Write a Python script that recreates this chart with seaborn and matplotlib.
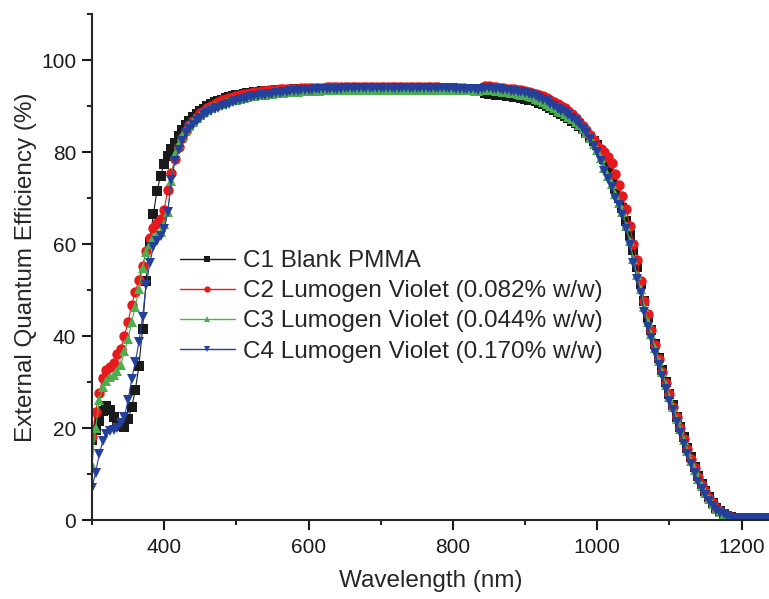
import numpy as np
import pandas as pd
import matplotlib
matplotlib.use("Agg")
import matplotlib.pyplot as plt
from matplotlib.ticker import MultipleLocator
import seaborn as sns

# ==========================================
# Data (EQE in %, read every 5 nm)
# ==========================================

wavelength = np.arange(300, 1245, 5)

c1_blank = [
    17.5, 19.5, 21.5, 23.8, 24.8, 24.0, 22.3, 21.0, 20.4, 20.3,
    21.9, 24.5, 28.2, 33.5, 41.5, 52.0, 60.5, 66.5, 71.5, 74.8,
    77.5, 79.2, 80.6, 81.9, 83.4, 84.8, 85.9, 86.8, 87.6, 88.3,
    88.9, 89.4, 89.9, 90.4, 90.8, 91.1, 91.4, 91.7, 91.9, 92.1,
    92.3, 92.5, 92.6, 92.8, 92.9, 93.0, 93.1, 93.2, 93.2, 93.3,
    93.3, 93.4, 93.4, 93.5, 93.5, 93.5, 93.6, 93.6, 93.6, 93.6,
    93.6, 93.7, 93.7, 93.7, 93.7, 93.7, 93.7, 93.7, 93.7, 93.7,
    93.7, 93.7, 93.7, 93.7, 93.7, 93.7, 93.7, 93.7, 93.7, 93.7,
    93.7, 93.7, 93.7, 93.7, 93.7, 93.7, 93.7, 93.7, 93.7, 93.7,
    93.7, 93.7, 93.7, 93.7, 93.6, 93.6, 93.6, 93.6, 93.6, 93.6,
    93.6, 93.5, 93.5, 93.5, 93.5, 93.4, 93.4, 93.4, 93.3, 92.8,
    92.7, 92.6, 92.5, 92.4, 92.3, 92.2, 92.1, 92.0, 91.9, 91.7,
    91.6, 91.4, 91.2, 91.0, 90.7, 90.4, 90.0, 89.6, 89.1, 88.6,
    88.2, 87.8, 87.3, 86.8, 86.3, 85.6, 84.9, 84.2, 83.3, 82.4,
    81.5, 80.2, 78.4, 76.6, 74.5, 72.2, 70.0, 67.8, 65.1, 62.0,
    58.6, 55.0, 51.4, 47.6, 44.2, 41.2, 38.2, 35.3, 32.6, 30.0,
    27.3, 24.9, 22.5, 20.2, 18.0, 15.7, 13.6, 11.6, 9.6, 7.9,
    6.3, 4.9, 3.7, 2.7, 1.9, 1.3, 0.9, 0.6, 0.4, 0.4,
    0.4, 0.4, 0.4, 0.4, 0.4, 0.4, 0.4, 0.4, 0.4,
]

c2_violet_082 = [
    18.0, 23.5, 27.6, 30.8, 32.6, 33.3, 34.1, 36.0, 37.2, 40.0,
    43.1, 46.7, 49.6, 52.2, 55.3, 58.4, 61.4, 63.4, 64.6, 65.5,
    67.5, 71.8, 75.4, 78.5, 81.0, 83.0, 84.6, 85.8, 86.8, 87.7,
    88.4, 89.0, 89.6, 90.1, 90.5, 90.9, 91.2, 91.5, 91.8, 92.0,
    92.2, 92.4, 92.6, 92.7, 92.9, 93.0, 93.1, 93.2, 93.3, 93.4,
    93.5, 93.5, 93.6, 93.6, 93.7, 93.7, 93.8, 93.8, 93.9, 93.9,
    93.9, 94.0, 94.0, 94.0, 94.0, 94.1, 94.1, 94.1, 94.1, 94.1,
    94.2, 94.2, 94.2, 94.2, 94.2, 94.2, 94.2, 94.2, 94.2, 94.2,
    94.2, 94.2, 94.2, 94.2, 94.2, 94.2, 94.2, 94.2, 94.2, 94.2,
    94.2, 94.2, 94.1, 94.1, 94.1, 94.1, 94.1, 94.0, 94.0, 94.0,
    94.0, 93.9, 93.9, 93.9, 93.8, 93.8, 93.8, 93.7, 94.0, 94.4,
    94.3, 94.2, 94.1, 94.0, 93.9, 93.8, 93.7, 93.6, 93.5, 93.4,
    93.3, 93.1, 92.9, 92.7, 92.4, 92.1, 91.7, 91.3, 90.9, 90.5,
    90.1, 89.6, 89.0, 88.3, 87.5, 86.6, 85.7, 84.8, 83.7, 82.6,
    81.3, 80.6, 79.9, 78.9, 77.6, 75.3, 72.8, 70.4, 67.7, 63.9,
    60.1, 56.5, 52.0, 47.6, 44.8, 41.4, 38.1, 35.0, 32.2, 29.8,
    27.3, 24.6, 22.3, 19.9, 17.7, 15.4, 13.3, 11.3, 9.4, 7.7,
    6.2, 4.8, 3.6, 2.6, 1.9, 1.3, 0.9, 0.6, 0.4, 0.4,
    0.4, 0.4, 0.4, 0.4, 0.4, 0.4, 0.4, 0.4, 0.4,
]

c3_violet_044 = [
    12.0, 20.0, 26.0, 29.0, 30.3, 31.0, 31.6, 32.4, 33.8, 36.7,
    39.3, 43.1, 46.4, 50.2, 54.8, 58.2, 60.1, 61.4, 62.1, 62.6,
    64.3, 67.0, 73.8, 79.6, 81.8, 83.4, 84.7, 85.7, 86.6, 87.4,
    88.0, 88.6, 89.1, 89.5, 89.9, 90.2, 90.5, 90.8, 91.0, 91.2,
    91.4, 91.6, 91.8, 92.0, 92.1, 92.2, 92.3, 92.4, 92.5, 92.6,
    92.7, 92.8, 92.8, 92.9, 93.0, 93.0, 93.1, 93.1, 93.2, 93.2,
    93.2, 93.3, 93.3, 93.3, 93.4, 93.4, 93.4, 93.4, 93.5, 93.5,
    93.5, 93.5, 93.5, 93.5, 93.5, 93.5, 93.5, 93.5, 93.5, 93.5,
    93.5, 93.5, 93.5, 93.5, 93.5, 93.5, 93.5, 93.5, 93.5, 93.5,
    93.5, 93.5, 93.5, 93.5, 93.5, 93.5, 93.5, 93.5, 93.5, 93.5,
    93.5, 93.5, 93.4, 93.4, 93.4, 93.4, 93.3, 93.3, 93.4, 93.6,
    93.5, 93.4, 93.3, 93.2, 93.1, 93.0, 92.9, 92.8, 92.6, 92.5,
    92.3, 92.1, 91.9, 91.6, 91.3, 90.9, 90.5, 90.0, 89.5, 89.0,
    88.6, 88.2, 87.7, 87.2, 86.6, 85.9, 85.1, 84.2, 83.0, 81.7,
    80.4, 78.6, 76.5, 74.7, 73.0, 70.8, 69.0, 66.9, 64.0, 60.6,
    56.8, 53.3, 50.2, 46.3, 43.0, 40.4, 37.4, 34.6, 32.2, 29.4,
    26.8, 24.6, 22.0, 19.7, 17.3, 15.0, 12.9, 10.9, 8.9, 7.3,
    5.9, 4.5, 3.4, 2.4, 1.8, 1.3, 0.9, 0.6, 0.4, 0.4,
    0.4, 0.4, 0.4, 0.4, 0.4, 0.4, 0.4, 0.4, 0.4,
]

c4_violet_170 = [
    7.0, 10.3, 14.3, 17.2, 18.7, 19.3, 19.6, 20.1, 21.0, 22.5,
    26.1, 30.6, 34.4, 38.6, 44.2, 51.0, 55.8, 59.3, 60.7, 61.7,
    63.2, 67.0, 74.0, 78.0, 80.4, 82.4, 84.1, 85.0, 85.9, 86.7,
    87.4, 88.0, 88.5, 88.9, 89.3, 89.6, 89.9, 90.2, 90.5, 90.8,
    91.0, 91.3, 91.5, 91.7, 91.9, 92.1, 92.2, 92.4, 92.5, 92.6,
    92.7, 92.8, 92.9, 93.0, 93.1, 93.2, 93.3, 93.3, 93.4, 93.4,
    93.5, 93.5, 93.6, 93.6, 93.7, 93.7, 93.7, 93.8, 93.8, 93.8,
    93.9, 93.9, 93.9, 93.9, 93.9, 93.9, 93.9, 93.9, 93.9, 93.9,
    93.9, 93.9, 93.9, 93.9, 93.9, 93.9, 93.9, 93.9, 93.9, 93.9,
    93.9, 93.9, 93.9, 93.9, 93.9, 93.9, 93.9, 93.9, 93.9, 93.9,
    93.9, 93.8, 93.8, 93.7, 93.7, 93.6, 93.6, 93.5, 93.6, 94.0,
    93.9, 93.8, 93.7, 93.6, 93.5, 93.4, 93.3, 93.2, 93.1, 93.0,
    92.8, 92.6, 92.4, 92.1, 91.8, 91.4, 91.0, 90.5, 89.9, 89.4,
    89.0, 88.6, 88.0, 87.5, 86.8, 86.0, 85.1, 84.1, 82.8, 81.4,
    80.0, 78.0, 75.9, 74.2, 72.4, 70.0, 68.5, 66.3, 63.3, 59.8,
    55.8, 52.3, 49.3, 45.2, 42.0, 39.5, 36.4, 33.7, 31.4, 28.5,
    25.9, 23.9, 21.2, 19.0, 16.6, 14.3, 12.2, 10.2, 8.2, 6.7,
    5.4, 4.1, 3.0, 2.1, 1.6, 1.2, 0.8, 0.5, 0.4, 0.4,
    0.4, 0.4, 0.4, 0.4, 0.4, 0.4, 0.4, 0.4, 0.4,
]

labels = [
    "C1 Blank PMMA",
    "C2 Lumogen Violet (0.082% w/w)",
    "C3 Lumogen Violet (0.044% w/w)",
    "C4 Lumogen Violet (0.170% w/w)",
]
colors = ["#1a1a1a", "#e8191c", "#4cae4c", "#24409a"]
marker_shapes = ["s", "o", "^", "v"]

# ==========================================
# Long-form table
# ==========================================

wide = pd.DataFrame(
    {
        "Wavelength": wavelength,
        labels[0]: c1_blank,
        labels[1]: c2_violet_082,
        labels[2]: c3_violet_044,
        labels[3]: c4_violet_170,
    }
)
df = wide.melt(id_vars="Wavelength", var_name="Sample", value_name="EQE")

# ==========================================
# Plot
# ==========================================

sns.set_style("ticks")
plt.rcParams["font.family"] = ["Liberation Sans", "DejaVu Sans"]
plt.rcParams["axes.linewidth"] = 1.5

fig = plt.figure(figsize=(7.69, 5.99), dpi=100)
ax = fig.add_axes([92 / 769, 79 / 599, 677 / 769, 506 / 599])

sns.lineplot(
    data=df,
    x="Wavelength",
    y="EQE",
    hue="Sample",
    style="Sample",
    hue_order=labels,
    style_order=labels,
    palette=dict(zip(labels, colors)),
    markers=dict(zip(labels, marker_shapes)),
    dashes=False,
    estimator=None,
    sort=False,
    linewidth=0.8,
    markersize=7.5,
    markeredgewidth=0,
    ax=ax,
)

ax.set_xlim(300, 1238)
ax.set_ylim(0, 110)

ax.xaxis.set_major_locator(MultipleLocator(200))
ax.xaxis.set_minor_locator(MultipleLocator(100))
ax.yaxis.set_major_locator(MultipleLocator(20))
ax.yaxis.set_minor_locator(MultipleLocator(10))

ax.tick_params(which="major", direction="out", length=7, width=1.5,
               labelsize=15, colors="#1a1a1a")
ax.tick_params(which="minor", direction="out", length=3.5, width=1.5)
ax.tick_params(axis="x", which="major", pad=6)
ax.tick_params(axis="y", which="major", pad=4.5)

ax.set_xlabel("Wavelength (nm)", fontsize=17.5, labelpad=9)
ax.set_ylabel("External Quantum Efficiency (%)", fontsize=17.5, labelpad=3)

sns.despine(ax=ax)

handles, names = ax.get_legend_handles_labels()
leg = ax.legend(
    handles,
    names,
    loc="center left",
    bbox_to_anchor=(0.13, 0.422),
    frameon=False,
    fontsize=17.5,
    handlelength=2.25,
    handletextpad=0.35,
    labelspacing=0.33,
    borderpad=0,
    borderaxespad=0,
)
for h in leg.legend_handles:
    h.set_markersize(4.5)
    h.set_linewidth(1.0)

plt.savefig("out.png", dpi=100)
